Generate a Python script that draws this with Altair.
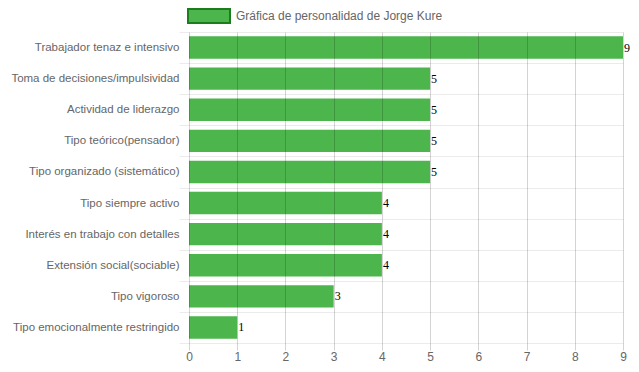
import altair as alt
import pandas as pd

categories = [
    "Trabajador tenaz e intensivo",
    "Toma de decisiones/impulsividad",
    "Actividad de liderazgo",
    "Tipo teórico(pensador)",
    "Tipo organizado (sistemático)",
    "Tipo siempre activo",
    "Interés en trabajo con detalles",
    "Extensión social(sociable)",
    "Tipo vigoroso",
    "Tipo emocionalmente restringido",
]
values = [9, 5, 5, 5, 5, 4, 4, 4, 3, 1]
series_name = "Gráfica de personalidad de Jorge Kure"
x_ticks = [0, 1, 2, 3, 4, 5, 6, 7, 8, 9]

df = pd.DataFrame({"cat": categories, "val": values, "serie": [series_name] * len(values)})

FONT = "Liberation Sans"

y_enc = alt.Y(
    "cat:N",
    sort=categories,
    title=None,
    scale=alt.Scale(paddingInner=0, paddingOuter=0),
    axis=alt.Axis(
        tickBand="extent",
        grid=True,
        gridColor="black",
        gridOpacity=0.08,
        tickColor="black",
        tickOpacity=0.08,
        tickSize=10,
        domain=False,
        labelPadding=0,
        labelLimit=0,
        labelFont=FONT,
        labelFontSize=11.5,
        labelColor="#666666",
        zindex=1,
    ),
)

x_enc = alt.X(
    "val:Q",
    title=None,
    scale=alt.Scale(domain=[0, 9], nice=False),
    axis=alt.Axis(
        values=x_ticks,
        grid=True,
        gridColor="black",
        gridOpacity=0.17,
        tickColor="black",
        tickOpacity=0.17,
        tickSize=7,
        domain=False,
        labelPadding=1,
        labelFont=FONT,
        labelFontSize=12,
        labelColor="#666666",
        labelFlush=False,
        zindex=1,
    ),
)

bars = alt.Chart(df).mark_bar(
    height=alt.RelativeBandSize(0.72),
).encode(
    y=y_enc,
    x=x_enc,
    color=alt.Color(
        "serie:N",
        scale=alt.Scale(range=["#4CB54C"]),
        legend=alt.Legend(
            title=None,
            orient="none",
            legendX=-2,
            legendY=-38,
            symbolType="M-1,-0.333H1V0.333H-1Z",
            symbolSize=1764,
            symbolStrokeColor="#1B7D1B",
            symbolStrokeWidth=2,
            symbolOpacity=1,
            labelFont=FONT,
            labelFontSize=12,
            labelColor="#666666",
            labelOffset=5,
            labelLimit=400,
        ),
    ),
)

labels = alt.Chart(df).mark_text(
    align="left",
    baseline="middle",
    dx=1,
    font="Liberation Serif",
    fontSize=12,
    color="black",
).encode(
    y=alt.Y("cat:N", sort=categories),
    x=alt.X("val:Q"),
    text=alt.Text("val:Q"),
)

chart = (
    alt.layer(bars, labels)
    .properties(
        width=434,
        height=311,
        autosize=alt.AutoSizeParams(type="none"),
        padding={"left": 181, "top": 24, "right": 8, "bottom": 21},
    )
    .configure_view(stroke=None)
)

chart.save("out.html", embed_options={"renderer": "svg", "actions": False})
